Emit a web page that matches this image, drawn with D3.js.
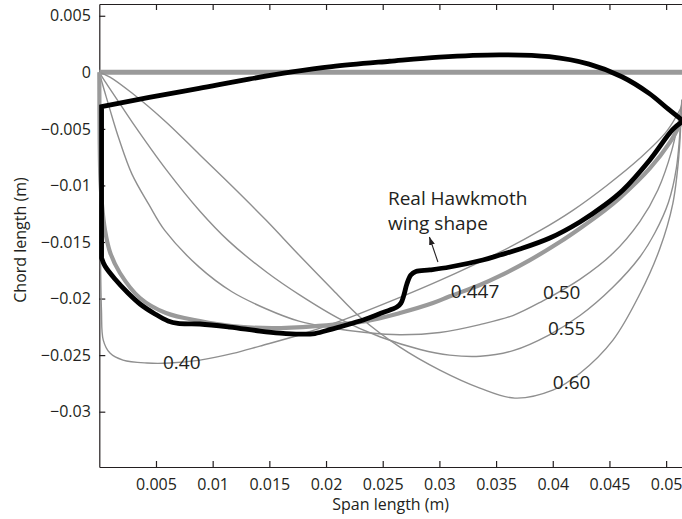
<!DOCTYPE html>
<html>
<head>
<meta charset="utf-8">
<script src="https://cdn.jsdelivr.net/npm/d3@7"></script>
<style>
body { margin: 0; background: #fff; }
svg { display: block; font-family: "Open Sans", sans-serif; }
.axis path, .axis line { stroke: #231f20; stroke-width: 1.2; }
.axis text { fill: #231f20; font-size: 16px; font-family: "Open Sans", sans-serif; }
</style>
</head>
<body>
<div id="chart"></div>
<script>
// chord curves, [span, chord] in metres, one per r1 value
var r1Labels = ["0.40", "0.447", "0.50", "0.55", "0.60"];

var curve040 = [[0, 0], [0.00004, -0.00687], [0.0001, -0.0157], [0.00019, -0.02101], [0.00035, -0.02367],
  [0.00094, -0.02482], [0.00209, -0.02544], [0.00421, -0.0257], [0.00623, -0.0257], [0.00888, -0.02544],
  [0.01179, -0.02485], [0.01417, -0.0242], [0.0177, -0.0232], [0.02123, -0.022], [0.02652, -0.0199],
  [0.03004, -0.0184], [0.03533, -0.0159], [0.03886, -0.014], [0.04177, -0.0122], [0.04477, -0.01],
  [0.04768, -0.0076], [0.05006, -0.0052], [0.05138, -0.003]];

var curve0447 = [[0, 0], [0.00003, -0.00598], [0.0001, -0.00952], [0.00024, -0.01173], [0.0005, -0.01394],
  [0.00094, -0.01588], [0.00182, -0.01774], [0.00359, -0.01995], [0.00588, -0.02128], [0.00888, -0.02199],
  [0.0117, -0.02243], [0.01523, -0.02261], [0.01911, -0.02243], [0.02352, -0.02199], [0.02652, -0.02128],
  [0.02943, -0.0204], [0.03092, -0.0198], [0.03357, -0.0188], [0.03533, -0.018], [0.03798, -0.0166],
  [0.04062, -0.015], [0.04239, -0.0138], [0.04459, -0.0122], [0.04592, -0.0111], [0.04856, -0.0085],
  [0.05033, -0.0062], [0.05138, -0.0043]];

var curve050 = [[0, 0], [0.00024, -0.0009], [0.00059, -0.0021], [0.00094, -0.0033], [0.00174, -0.0059],
  [0.00288, -0.009], [0.00438, -0.0117], [0.00579, -0.014], [0.00879, -0.0172], [0.0117, -0.0194],
  [0.0147, -0.0209], [0.01761, -0.022], [0.02052, -0.0226], [0.02352, -0.023], [0.02652, -0.0232],
  [0.03004, -0.023], [0.03357, -0.0223], [0.03648, -0.0215], [0.03913, -0.0202], [0.04239, -0.0183],
  [0.04531, -0.016], [0.04768, -0.0132], [0.04927, -0.0104], [0.0505, -0.0069], [0.05138, -0.0028]];

var curve055 = [[0, 0], [0.0005, -0.0008], [0.0015, -0.0023], [0.0029, -0.0044], [0.0059, -0.0086],
  [0.0089, -0.0123], [0.0114, -0.0149], [0.0148, -0.0177], [0.0177, -0.0197], [0.0212, -0.0218],
  [0.0248, -0.0234], [0.0283, -0.0245], [0.0309, -0.025], [0.0336, -0.0251], [0.0365, -0.0246],
  [0.0397, -0.0232], [0.0424, -0.0215], [0.0453, -0.019], [0.0477, -0.0163], [0.049, -0.0142],
  [0.0502, -0.0115], [0.0509, -0.0085], [0.05138, -0.0026]];

var curve060 = [[0, 0], [0.00094, -0.00042], [0.00288, -0.00183], [0.00588, -0.00439], [0.00888, -0.00731],
  [0.01179, -0.01014], [0.0147, -0.01306], [0.0177, -0.01624], [0.02061, -0.01924], [0.02299, -0.02163],
  [0.02652, -0.02429], [0.03004, -0.02632], [0.03357, -0.02791], [0.03666, -0.0288], [0.04, -0.0281],
  [0.0424, -0.0266], [0.04531, -0.02367], [0.04768, -0.0196], [0.04944, -0.0156], [0.05059, -0.0116],
  [0.05112, -0.0074], [0.05138, -0.0024]];

// real hawkmoth wing outline: leading edge root to tip, trailing edge tip back to root
var wingLeading = [[0.0002, -0.00304], [0.0044, -0.00222], [0.0088, -0.00142], [0.0132, -0.0006],
  [0.017, 0.00003], [0.0205, 0.0005], [0.0256, 0.00098], [0.03, 0.00135], [0.0353, 0.00155],
  [0.0397, 0.00138], [0.0432, 0.00072], [0.0461, -0.00039], [0.0485, -0.00186], [0.0502, -0.00326],
  [0.0515, -0.0043]];

var wingTrailing = [[0.0515, -0.0043], [0.05059, -0.00505], [0.04856, -0.00775], [0.0462, -0.0104],
  [0.04459, -0.01173], [0.04239, -0.01323], [0.03974, -0.01465], [0.0371, -0.01562], [0.03533, -0.01615],
  [0.03383, -0.01659], [0.03092, -0.01721], [0.02916, -0.01747], [0.02793, -0.01761], [0.02748, -0.01792],
  [0.02713, -0.01871], [0.02687, -0.01969], [0.02661, -0.0204], [0.02625, -0.02075], [0.02502, -0.02123],
  [0.02352, -0.02181], [0.02211, -0.02225], [0.02052, -0.0227], [0.01902, -0.02309], [0.0177, -0.02314],
  [0.01594, -0.02305], [0.01417, -0.02287], [0.01153, -0.02252], [0.00888, -0.02225], [0.00694, -0.0222],
  [0.00606, -0.02198], [0.00491, -0.02136], [0.00359, -0.02048], [0.00253, -0.01951], [0.00138, -0.01827],
  [0.0005, -0.01712], [0.0002, -0.01641]];

// where each r1 label sits (left edge, baseline)
var r1LabelAt = [[0.00562, -0.02623], [0.03101, -0.01995], [0.03913, -0.02004], [0.03957, -0.02323], [0.04001, -0.02796]];

var noteLines = ["Real Hawkmoth", "wing shape"];
var noteAt = [[0.02546, -0.01173], [0.02546, -0.01398]];
var arrowFrom = [0.02987, -0.01677], arrowTo = [0.02912, -0.01456];

var xTicks = [0.005, 0.01, 0.015, 0.02, 0.025, 0.03, 0.035, 0.04, 0.045, 0.05];
var xTickLabels = ["0.005", "0.01", "0.015", "0.02", "0.025", "0.03", "0.035", "0.04", "0.045", "0.05"];
var yTicks = [0.005, 0, -0.005, -0.01, -0.015, -0.02, -0.025, -0.03];
var yTickLabels = ["0.005", "0", "\u22120.005", "\u22120.01", "\u22120.015", "\u22120.02", "\u22120.025", "\u22120.03"];

var margin = {top: 4, right: 0, bottom: 52, left: 99.3},
    width = 682 - margin.left,
    height = 519 - margin.top - margin.bottom;

var svg = d3.select("#chart")
  .append("svg")
    .attr("width", 682)
    .attr("height", 519)
  .append("g")
    .attr("transform", "translate(" + margin.left + "," + margin.top + ")");

var x = d3.scaleLinear().domain([0, 0.0514]).range([0, width]);
var y = d3.scaleLinear().domain([-0.03489, 0.00604]).range([height, 0]);

svg.append("defs").append("clipPath")
  .attr("id", "plot")
  .append("rect")
    .attr("x", -10)
    .attr("y", -10)
    .attr("width", width + 10)
    .attr("height", height + 20);

// axes, MATLAB style with ticks pointing in
svg.append("g")
  .attr("class", "axis")
  .attr("transform", "translate(0," + height + ")")
  .call(d3.axisBottom(x).tickValues(xTicks).tickSizeInner(-6).tickSizeOuter(0).tickPadding(11.5)
    .tickFormat(function(d, i) { return xTickLabels[i]; }));

svg.append("g")
  .attr("class", "axis")
  .call(d3.axisTop(x).tickValues(xTicks).tickSizeInner(-6).tickSizeOuter(0).tickFormat(""));

svg.append("g")
  .attr("class", "axis")
  .call(d3.axisLeft(y).tickValues(yTicks).tickSizeInner(-6).tickSizeOuter(0).tickPadding(8.5)
    .tickFormat(function(d, i) { return yTickLabels[i]; }));

svg.append("text")
  .attr("x", width / 2)
  .attr("y", 506)
  .attr("text-anchor", "middle")
  .attr("fill", "#231f20")
  .style("font-size", "16px")
  .text("Span length (m)");

svg.append("text")
  .attr("transform", "translate(" + (26 - margin.left) + "," + (240 - margin.top) + ") rotate(-90)")
  .attr("text-anchor", "middle")
  .attr("fill", "#231f20")
  .style("font-size", "16px")
  .text("Chord length (m)");

var line = d3.line()
  .x(function(d) { return x(d[0]); })
  .y(function(d) { return y(d[1]); })
  .curve(d3.curveCatmullRom.alpha(0.5));

var plot = svg.append("g").attr("clip-path", "url(#plot)");

// zero chord line
plot.append("path")
  .attr("d", line(x.domain().map(function(v) { return [v, 0]; })))
  .attr("fill", "none")
  .attr("stroke", "#9a9a9a")
  .attr("stroke-width", 5);

var thin = [curve040, curve050, curve055, curve060];
plot.selectAll(".thin")
  .data(thin)
  .enter()
  .append("path")
    .attr("class", "thin")
    .attr("d", line)
    .attr("fill", "none")
    .attr("stroke", "#8f8f8f")
    .attr("stroke-width", 1.4);

plot.append("path")
  .attr("d", line(curve0447))
  .attr("fill", "none")
  .attr("stroke", "#9a9a9a")
  .attr("stroke-width", 4.2);

// two pieces so the tip stays a sharp corner
plot.append("path")
  .attr("d", line(wingLeading) + line(wingTrailing).replace(/^M/, "L") + "Z")
  .attr("fill", "none")
  .attr("stroke", "#000")
  .attr("stroke-width", 4.8)
  .attr("stroke-linejoin", "miter");

svg.selectAll(".r1")
  .data(r1Labels)
  .enter()
  .append("text")
    .attr("class", "r1")
    .attr("x", function(d, i) { return x(r1LabelAt[i][0]); })
    .attr("y", function(d, i) { return y(r1LabelAt[i][1]); })
    .attr("fill", "#231f20")
    .style("font-size", "19px")
    .text(function(d) { return d; });

svg.selectAll(".note")
  .data(noteLines)
  .enter()
  .append("text")
    .attr("class", "note")
    .attr("x", function(d, i) { return x(noteAt[i][0]); })
    .attr("y", function(d, i) { return y(noteAt[i][1]); })
    .attr("fill", "#231f20")
    .style("font-size", "19px")
    .text(function(d) { return d; });

svg.select("defs").append("marker")
  .attr("id", "head")
  .attr("markerUnits", "userSpaceOnUse")
  .attr("viewBox", "0 0 8 6")
  .attr("refX", 8)
  .attr("refY", 3)
  .attr("markerWidth", 8)
  .attr("markerHeight", 6)
  .attr("orient", "auto")
  .append("path")
    .attr("d", "M0,0L8,3L0,6Z")
    .attr("fill", "#231f20");

svg.append("line")
  .attr("x1", x(arrowFrom[0]))
  .attr("y1", y(arrowFrom[1]))
  .attr("x2", x(arrowTo[0]))
  .attr("y2", y(arrowTo[1]))
  .attr("stroke", "#231f20")
  .attr("stroke-width", 1.1)
  .attr("marker-end", "url(#head)");
</script>
</body>
</html>
